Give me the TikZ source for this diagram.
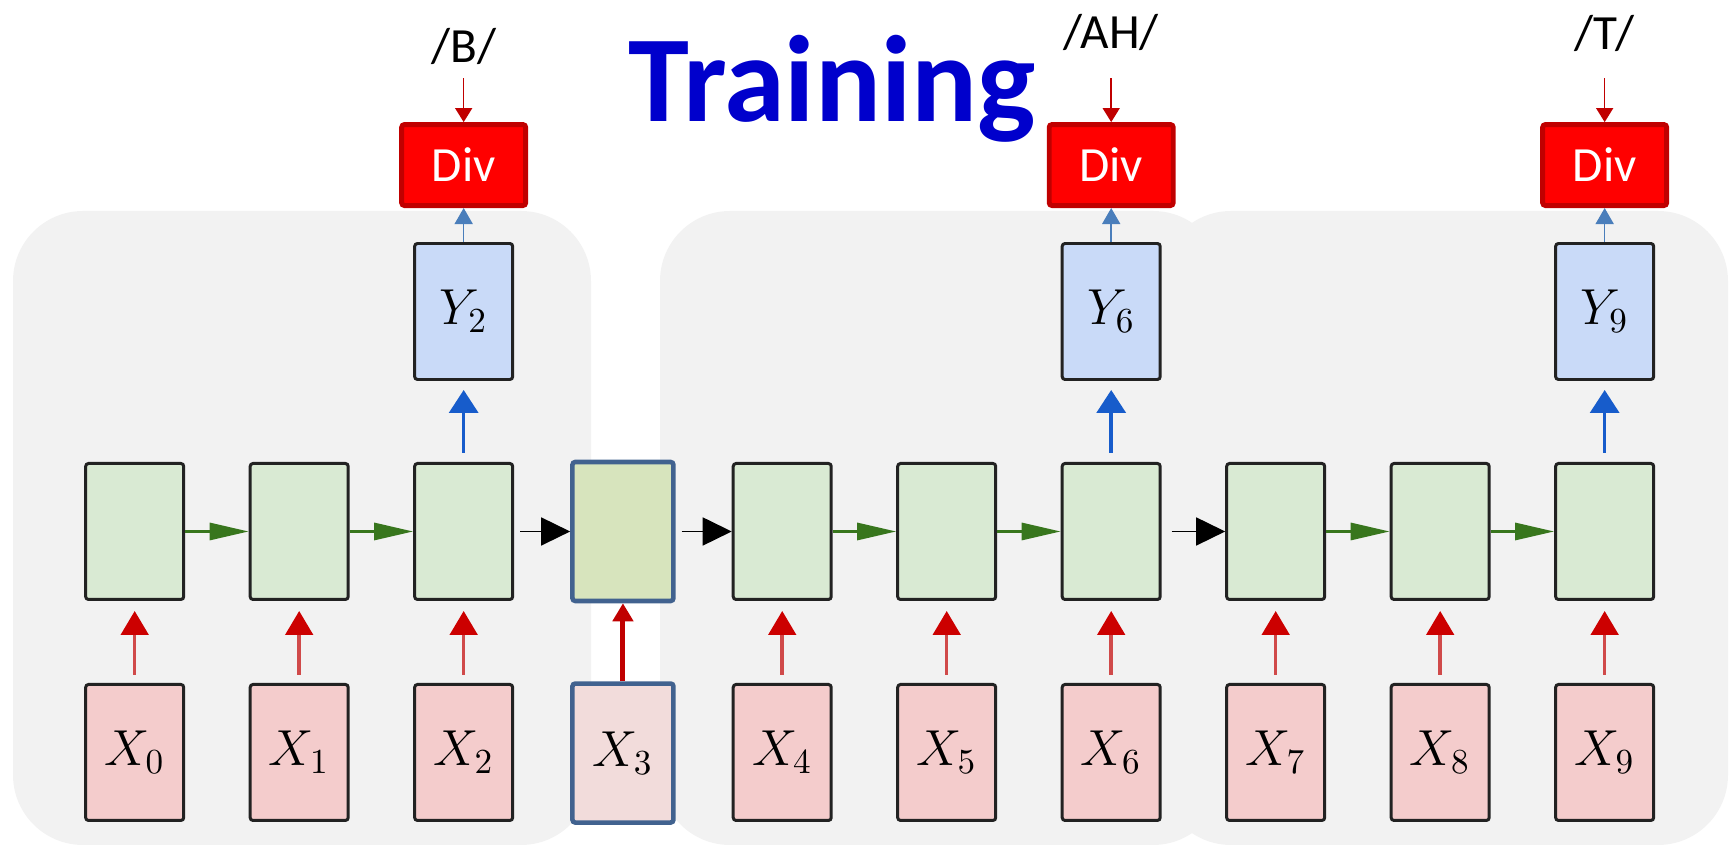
\documentclass[tikz,border=0pt]{standalone}
\usepackage{fontspec}
\setmainfont{Carlito}
\usepackage{tikz}
\usetikzlibrary{positioning,arrows.meta}
\definecolor{cPanel}{HTML}{F2F2F2}
\definecolor{cEdge} {HTML}{222222}
\definecolor{cHid}  {HTML}{D9EAD3}
\definecolor{cHidF} {HTML}{D7E4BD}
\definecolor{cInp}  {HTML}{F4CCCC}
\definecolor{cInpF} {HTML}{F2DCDB}
\definecolor{cOutp} {HTML}{C9DAF8}
\definecolor{cFocus}{HTML}{41628F}
\definecolor{cDivE} {HTML}{C00000}
\definecolor{cGreen}{HTML}{38761D}
\definecolor{cRed}  {HTML}{CC0000}
\definecolor{cRedLn}{HTML}{D04A4A}
\definecolor{cBlue} {HTML}{175CCB}
\definecolor{cSteel}{HTML}{4A7EBB}
\definecolor{cTitle}{HTML}{0000CC}
\tikzset{
  cell/.style={draw=cEdge,line width=0.85pt,rounded corners=0.8pt,inner sep=0pt,
               minimum width=0.98cm,minimum height=1.36cm},
  shid/.style={cell,fill=cHid},
  sinp/.style={cell,fill=cInp,font=\fontsize{14.4}{17}\selectfont},
  sout/.style={cell,fill=cOutp,font=\fontsize{14.4}{17}\selectfont},
  sfoc/.style={draw=cFocus,line width=1.3pt,minimum width=1.01cm,minimum height=1.39cm},
  sdiv/.style={draw=cDivE,fill=red,line width=1.4pt,rounded corners=0.8pt,inner sep=0pt,
               minimum width=1.24cm,minimum height=0.81cm,text=white,
               font=\fontsize{14}{16}\selectfont},
  slbl/.style={font=\fontsize{14}{16}\selectfont,inner sep=0pt},
  sttl/.style={font=\fontsize{35}{40}\selectfont\bfseries,text=cTitle,inner sep=0pt},
  spanel/.style={fill=cPanel,rounded corners=0.7cm},
  gar/.style={-{Triangle[length=3.9mm,width=1.7mm]},line width=0.85pt,cGreen},
  bar/.style={-{Triangle[length=2.9mm,width=2.8mm]},line width=0.45pt,black,shorten <=0.6mm},
  rar/.style={-{Triangle[length=2.4mm,width=2.75mm,color=cRed]},line width=1pt,cRedLn,
              shorten <=0.8mm,shorten >=1mm},
  rarx/.style={-{Triangle[length=1.8mm,width=2mm]},line width=1.4pt,cDivE},
  yar/.style={-{Triangle[length=2.3mm,width=2.9mm]},line width=1pt,cBlue,
              shorten <=0.9mm,shorten >=0.9mm},
  dar/.style={-{Triangle[length=1.6mm,width=1.8mm]},line width=0.45pt,cSteel},
  tar/.style={-{Triangle[length=1.4mm,width=1.7mm]},line width=0.45pt,cDivE},
}
\begin{document}
\begin{tikzpicture}[node distance=6.35mm]
    \useasboundingbox (0,0) rectangle (17.31,8.52);
    % grey blocks behind the sequence
    \fill[spanel] (0.13,0.07) rectangle (5.91,6.41);
    \fill[spanel] (6.60,0.07) rectangle (12.23,6.41);
    \fill[spanel] (11.61,0.07) rectangle (17.28,6.41);
    \node[sttl,anchor=base] (ttl) at (8.32,7.30) {Training};
    % hidden states
    \node[shid] (h0) at (1.347,3.205) {};
    \node[shid,right=of h0] (h1) {};
    \node[shid,right=of h1] (h2) {};
    \node[shid,sfoc,fill=cHidF,right=5.6mm of h2] (h3) {};
    \node[shid,right=5.6mm of h3] (h4) {};
    \node[shid,right=of h4] (h5) {};
    \node[shid,right=of h5] (h6) {};
    \node[shid,right=of h6] (h7) {};
    \node[shid,right=of h7] (h8) {};
    \node[shid,right=of h8] (h9) {};
    % inputs
    \node[sinp,below=8.2mm of h0] (x0) {$X_0$};
    \node[sinp,below=8.2mm of h1] (x1) {$X_1$};
    \node[sinp,below=8.2mm of h2] (x2) {$X_2$};
    \node[sinp,sfoc,fill=cInpF,below=7.8mm of h3] (x3) {$X_3$};
    \node[sinp,below=8.2mm of h4] (x4) {$X_4$};
    \node[sinp,below=8.2mm of h5] (x5) {$X_5$};
    \node[sinp,below=8.2mm of h6] (x6) {$X_6$};
    \node[sinp,below=8.2mm of h7] (x7) {$X_7$};
    \node[sinp,below=8.2mm of h8] (x8) {$X_8$};
    \node[sinp,below=8.2mm of h9] (x9) {$X_9$};
    % outputs, divergences, targets
    \node[sout,above=8.1mm of h2] (y2) {$Y_2$};
    \node[sout,above=8.1mm of h6] (y6) {$Y_6$};
    \node[sout,above=8.1mm of h9] (y9) {$Y_9$};
    \node[sdiv,above=3.4mm of y2] (d2) {Div};
    \node[sdiv,above=3.4mm of y6] (d6) {Div};
    \node[sdiv,above=3.4mm of y9] (d9) {Div};
    \node[slbl,above=6mm of d2.north,anchor=base] (l2) {/B/};
    \node[slbl,above=7.4mm of d6.north,anchor=base] (l6) {/AH/};
    \node[slbl,above=7.3mm of d9.north,anchor=base] (l9) {/T/};
    \coordinate[above=4.4mm of d2.north] (p2);
    \coordinate[above=4.4mm of d6.north] (p6);
    \coordinate[above=4.4mm of d9.north] (p9);
    % recurrence
    \draw[gar] (h0)--(h1); \draw[gar] (h1)--(h2);
    \draw[gar] (h4)--(h5); \draw[gar] (h5)--(h6);
    \draw[gar] (h7)--(h8); \draw[gar] (h8)--(h9);
    \draw[bar] (h2)--(h3); \draw[bar] (h3)--(h4);
    \draw[bar,shorten <=1mm] (h6)--(h7);
    % inputs into cells
    \draw[rar] (x0)--(h0); \draw[rar] (x1)--(h1); \draw[rar] (x2)--(h2);
    \draw[rarx] (x3)--(h3);
    \draw[rar] (x4)--(h4); \draw[rar] (x5)--(h5); \draw[rar] (x6)--(h6);
    \draw[rar] (x7)--(h7); \draw[rar] (x8)--(h8); \draw[rar] (x9)--(h9);
    % outputs and losses
    \draw[yar] (h2)--(y2); \draw[yar] (h6)--(y6); \draw[yar] (h9)--(y9);
    \draw[dar] (y2)--(d2); \draw[dar] (y6)--(d6); \draw[dar] (y9)--(d9);
    \draw[tar] (p2)--(d2); \draw[tar] (p6)--(d6); \draw[tar] (p9)--(d9);
\end{tikzpicture}
\end{document}
